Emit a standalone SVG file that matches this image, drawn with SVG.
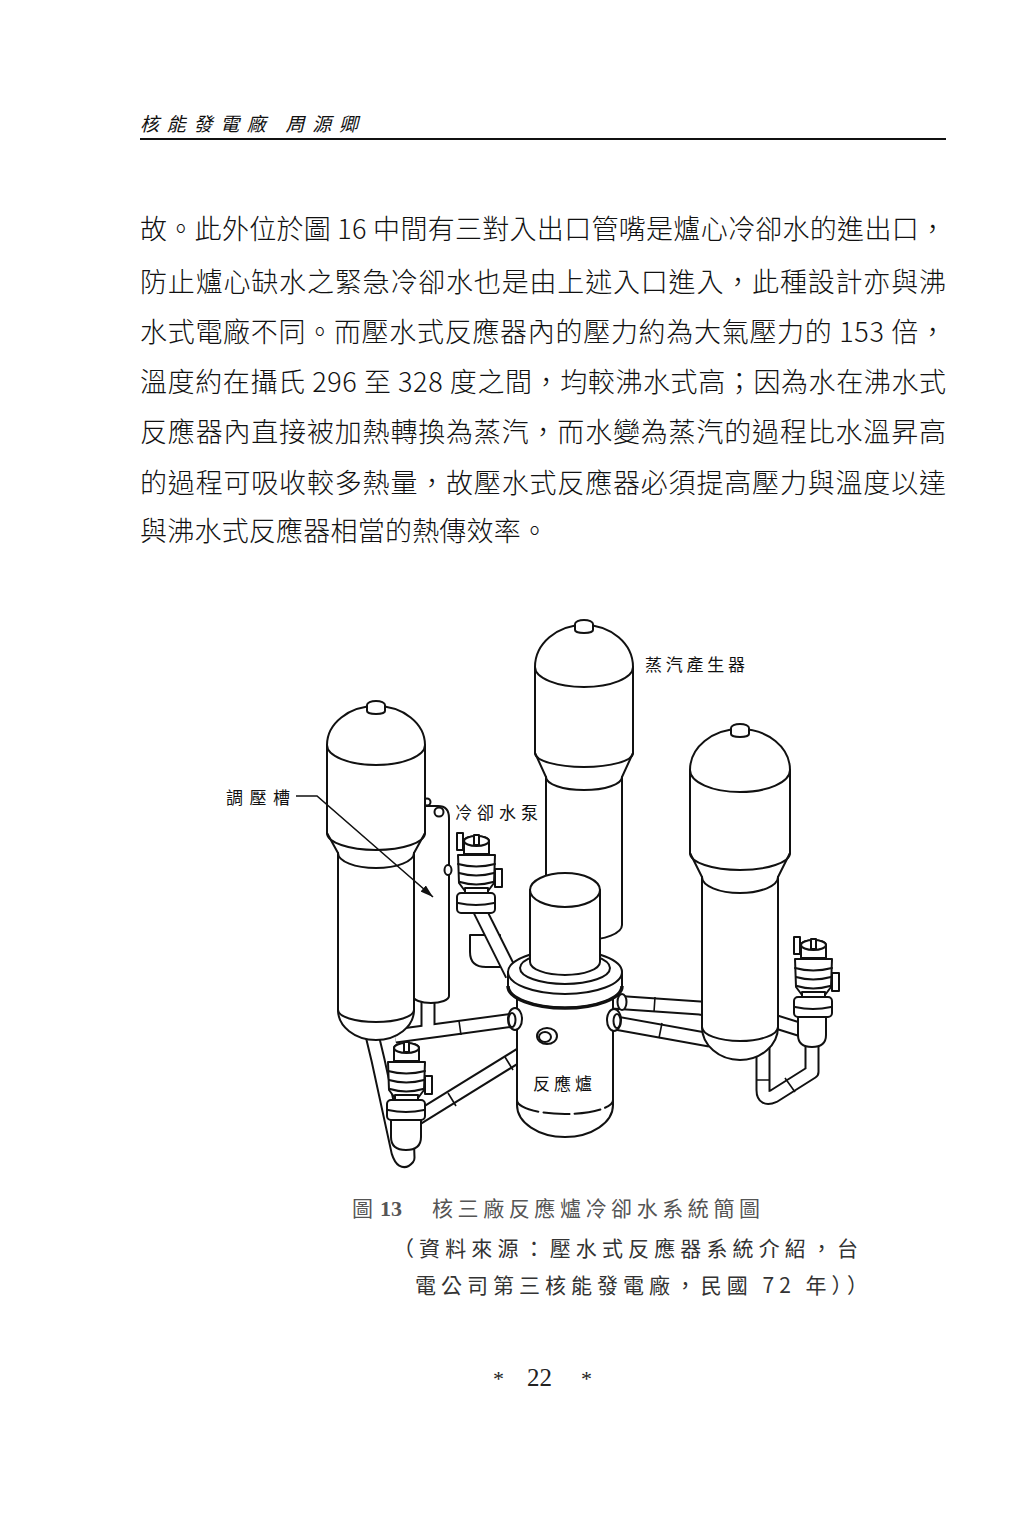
<svg xmlns="http://www.w3.org/2000/svg" xmlns:xlink="http://www.w3.org/1999/xlink" width="1024" height="1514" viewBox="0 0 1024 1514">
<style>
.t{font-family:"Noto Sans CJK TC","Noto Sans CJK SC",sans-serif;fill:#111}
.b{font-size:27px;font-weight:300}
.lbl{font-size:17px}
.cap{font-size:21px;fill:#333}
.s{fill:#fff;stroke:#111;stroke-width:2;stroke-linejoin:round}
.n{fill:none;stroke:#111;stroke-width:2;stroke-linecap:round}
.po{fill:none;stroke:#111;stroke-width:15;stroke-linejoin:round}
.pi{fill:none;stroke:#fff;stroke-width:11;stroke-linejoin:round}
.w{fill:none;stroke:#111;stroke-width:1.6}
</style>
<defs>
<marker id="ah" viewBox="0 0 13 8" refX="13" refY="4" markerWidth="13" markerHeight="8" markerUnits="userSpaceOnUse" orient="auto">
<path d="M0,0 L13,4 L0,8 Z" fill="#111"/>
</marker>
<g id="pump">
<path class="s" d="M1,22 L38,22 L37,50 L31,58 L8,58 L2,50 Z"/>
<path class="n" d="M1,31 Q19,36 38,31 M2,40 Q19,45 37,40 M3,49 Q19,54 36,49"/>
<rect class="s" x="38" y="36" width="7" height="18"/>
<rect class="s" x="8" y="55" width="23" height="7"/>
<rect class="s" x="0" y="60" width="38" height="20" rx="4"/>
<path class="n" d="M1,70 Q19,74 37,70"/>
<path class="s" d="M7,21 V8 A12.5,5 0 0 1 32,8 V21 Z"/>
<ellipse class="s" cx="19.5" cy="8" rx="12.5" ry="5"/>
<rect class="s" x="17" y="2" width="5" height="10"/>
</g>
<path id="pA" d="M612,1002 L700,1008 L770,1020 L802,1030"/>
<path id="pB" d="M610,1022 L710,1040"/>
<path id="pC" d="M763,1046 V1090 Q763,1101 774,1096 L812,1072 V1036"/>
<path id="pD" d="M514,1020 L440,1030 L395,1036"/>
<path id="pE" d="M428,996 V1028"/>
<path id="pF" d="M372,1035 L378,1060 L398,1152 Q402,1165 408,1158 L407,1128"/>
<path id="pG" d="M416,1119 L547,1038"/>
<path id="pH" d="M476,903 L512,975"/>
</defs>
<rect width="1024" height="1514" fill="#fff"/>

<g id="header">
<text class="t" x="140" y="131" font-size="19" font-style="italic" textLength="218" lengthAdjust="spacing">核能發電廠 周源卿</text>
<line x1="140" y1="139" x2="946" y2="139" stroke="#111" stroke-width="2"/>
</g>

<g id="body" class="t b">
<text x="140" y="239" textLength="806" lengthAdjust="spacing">故。此外位於圖 16 中間有三對入出口管嘴是爐心冷卻水的進出口，</text>
<text x="140" y="292" textLength="806" lengthAdjust="spacing">防止爐心缺水之緊急冷卻水也是由上述入口進入，此種設計亦與沸</text>
<text x="140" y="342" textLength="806" lengthAdjust="spacing">水式電廠不同。而壓水式反應器內的壓力約為大氣壓力的 153 倍，</text>
<text x="140" y="392" textLength="806" lengthAdjust="spacing">溫度約在攝氏 296 至 328 度之間，均較沸水式高；因為水在沸水式</text>
<text x="140" y="442" textLength="806" lengthAdjust="spacing">反應器內直接被加熱轉換為蒸汽，而水變為蒸汽的過程比水溫昇高</text>
<text x="140" y="493" textLength="806" lengthAdjust="spacing">的過程可吸收較多熱量，故壓水式反應器必須提高壓力與溫度以達</text>
<text x="140" y="541" textLength="408" lengthAdjust="spacing">與沸水式反應器相當的熱傳效率。</text>
</g>

<g id="sg-middle">
<path class="s" d="M535,667 A49,42 0 0 1 633,667 L633,753 L622,777 L622,925 A38,15 0 0 1 546,925 L546,777 L535,753 Z"/>
<path class="n" d="M535,667 A49,20 0 0 0 633,667 M535,753 A49,14 0 0 0 633,753 M546,777 A38,13 0 0 0 622,777"/>
<path class="s" d="M575,630 V624 A9,4 0 0 1 593,624 V630 A9,3 0 0 1 575,630 Z"/>
</g>

<g id="connectors">
<g id="pipes-right-back">
<use href="#pA" class="po"/><use href="#pB" class="po"/><use href="#pC" class="po"/>
<use href="#pA" class="pi"/><use href="#pB" class="pi"/><use href="#pC" class="pi"/>
<path class="w" d="M655,997 L654,1012 M662,1023 L659,1038 M757,1080 L770,1080 M785,1078 L795,1092"/>
</g>
</g>

<g id="sg-right">
<path class="s" d="M690,770 A50,41 0 0 1 790,770 L790,853 L778,877 L778,1027 A38,33 0 0 1 702,1027 L702,877 L690,853 Z"/>
<path class="n" d="M690,770 A50,22 0 0 0 790,770 M690,853 A50,17 0 0 0 790,853 M702,877 A38,16 0 0 0 778,877 M702,1027 A38,14 0 0 0 778,1027"/>
<path class="s" d="M731,734 V728 A9,4 0 0 1 749,728 V734 A9,3 0 0 1 731,734 Z"/>
</g>

<g id="pump-right">
<path class="s" d="M798,1017 V1035 Q798,1047 812,1047 Q826,1047 826,1035 V1017 Z"/>
<rect class="s" x="794" y="937" width="6" height="17"/>
<use href="#pump" transform="translate(794,937)"/>
</g>

<g id="connectors-left">
<use href="#pD" class="po"/><use href="#pE" class="po"/><use href="#pF" class="po"/><use href="#pG" class="po"/>
<use href="#pD" class="pi"/><use href="#pE" class="pi"/><use href="#pF" class="pi"/><use href="#pG" class="pi"/>
<path class="w" d="M459,1021 L461,1035 M389,1083 L403,1080 M448,1093 L456,1106 M505,1057 L513,1070"/>
</g>

<g id="pressurizer">
<path class="s" d="M413,830 L413,996 A18,7 0 0 0 449,996 L449,818 Q449,806 438,806 L425,806 Z"/>
<circle class="s" cx="427" cy="802" r="3.5"/>
<circle class="s" cx="439" cy="812" r="4.5"/>
<ellipse class="s" cx="448" cy="870" rx="3.5" ry="5"/>
</g>

<g id="sg-left">
<path class="s" d="M327,745 A49,39 0 0 1 425,745 L425,833 L414,853 L414,1010 A38,30 0 0 1 338,1010 L338,853 L327,833 Z"/>
<path class="n" d="M327,745 A49,20 0 0 0 425,745 M327,833 A49,17 0 0 0 425,833 M338,853 A38,15 0 0 0 414,853 M338,1010 A38,12 0 0 0 414,1010"/>
<path class="s" d="M367,711 V705 A9,4 0 0 1 385,705 V711 A9,3 0 0 1 367,711 Z"/>
</g>

<g id="pump-lower-left">
<path class="s" d="M391,1118 V1137 Q391,1150 406,1150 Q421,1150 421,1137 V1118 Z"/>
<use href="#pump" transform="translate(387,1040)"/>
</g>

<g id="pump-upper-left">
<path class="s" d="M470,935 V952 Q470,967 486,967 L500,967 L500,935 Z"/>
<use href="#pH" class="po"/><use href="#pH" class="pi"/>
<rect class="s" x="457" y="833" width="6" height="17"/>
<use href="#pump" transform="translate(457,833)"/>
</g>

<g id="reactor">
<path class="s" d="M517,990 V1105 A48,32 0 0 0 613,1105 V990 Z"/>
<path class="n" d="M517,1100 A48,14 0 0 0 613,1100" stroke-dasharray="26 5"/>
<path class="s" d="M508,972 V986 A57,22 0 0 0 622,986 V972 Z"/>
<path fill="none" stroke="#111" stroke-width="3.5" d="M508,986 A57,22 0 0 0 622,986"/>
<ellipse class="s" cx="565" cy="972" rx="57" ry="22"/>
<ellipse class="s" cx="565" cy="968" rx="45" ry="16"/>
<path class="s" d="M530,890 V962 A35,13 0 0 0 600,962 V890 Z"/>
<ellipse class="s" cx="565" cy="890" rx="35" ry="17"/>
<ellipse class="s" cx="515" cy="1019" rx="7" ry="11"/>
<ellipse class="n" cx="512" cy="1020" rx="3.5" ry="7"/>
<ellipse class="s" cx="547" cy="1036" rx="10" ry="8"/>
<ellipse class="n" cx="545" cy="1037" rx="6" ry="5"/>
<ellipse class="s" cx="614" cy="1020" rx="7" ry="11"/>
<ellipse class="n" cx="617" cy="1021" rx="3.5" ry="7"/>
<ellipse class="s" cx="622" cy="1002" rx="4.5" ry="8"/>
</g>

<g id="labels" class="t">
<text class="lbl" x="645" y="671" textLength="100" lengthAdjust="spacing">蒸汽產生器</text>
<text class="lbl" x="226" y="804" font-size="18" textLength="64" lengthAdjust="spacing">調壓槽</text>
<text class="lbl" x="455" y="819" textLength="83" lengthAdjust="spacing">冷卻水泵</text>
<text class="lbl" x="533" y="1090" font-size="18" textLength="59" lengthAdjust="spacing">反應爐</text>
<path d="M296,796 H317 L433,897" fill="none" stroke="#111" stroke-width="1.6" marker-end="url(#ah)"/>
</g>

<g id="caption" class="t">
<text class="cap" x="352" y="1216" style="fill:#555">圖</text>
<text x="380" y="1216" font-family="Liberation Serif,serif" font-weight="bold" font-size="22" fill="#555">13</text>
<text class="cap" x="432" y="1216" textLength="328" lengthAdjust="spacing" style="fill:#555">核三廠反應爐冷卻水系統簡圖</text>
<text class="cap" x="393" y="1256" font-size="22" textLength="465" lengthAdjust="spacing">（資料來源：壓水式反應器系統介紹，台</text>
<text class="cap" x="415" y="1293" font-size="22" textLength="453" lengthAdjust="spacing">電公司第三核能發電廠，民國 72 年））</text>
</g>

<g id="page-number" font-family="Liberation Serif,serif" fill="#222">
<text x="493" y="1386" font-size="22">*</text>
<text x="527" y="1386" font-size="25">22</text>
<text x="581" y="1386" font-size="22">*</text>
</g>
</svg>
